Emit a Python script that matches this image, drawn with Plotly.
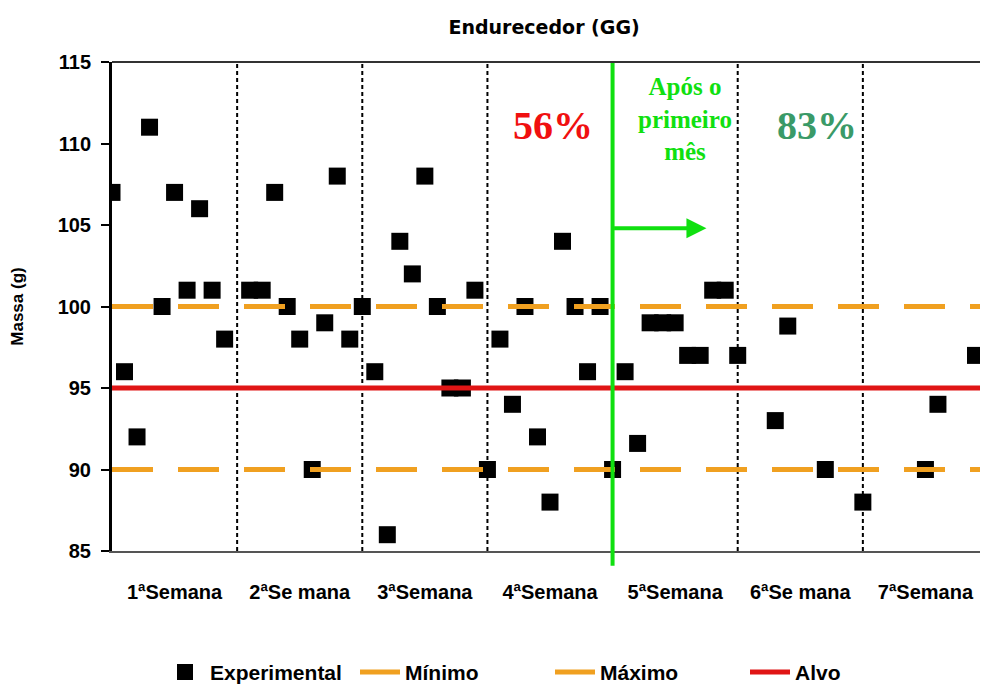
import plotly.graph_objects as go

# amostras (posicao no eixo x) e massa medida (g)
amostra = [0, 1, 2, 3, 4, 5, 6, 7, 8, 9,
           11, 12, 13, 14, 15, 16, 17, 18, 19, 20,
           21, 22, 23, 24, 25, 26, 27, 28, 29, 30,
           31, 32, 33, 34, 35, 36, 37, 38, 39, 40,
           41, 42, 43, 44, 45, 46, 47, 48, 49, 50,
           53, 54, 57, 60,
           65, 66, 69]
massa = [107, 96, 92, 111, 100, 107, 101, 106, 101, 98,
         101, 101, 107, 100, 98, 90, 99, 108, 98, 100,
         96, 86, 104, 102, 108, 100, 95, 95, 101, 90,
         98, 94, 100, 92, 88, 104, 100, 96, 100, 90,
         96, 91.6, 99, 99, 99, 97, 97, 101, 101, 97,
         93, 98.8, 90, 88,
         90, 94, 97]

semanas = ["1ªSemana", "2ªSe mana", "3ªSemana", "4ªSemana",
           "5ªSemana", "6ªSe mana", "7ªSemana"]
amostras_por_semana = 10
x_range = [0, 70]

minimo = 90
maximo = 100
alvo = 95
inicio_mes = 40  # fim da 4a semana

NARROW = dict(family="Liberation Sans Narrow, Arial Narrow, Arial", weight="bold", color="black")
WIDE = dict(family="DejaVu Sans", weight="bold", color="black")

fig = go.Figure()
fig.add_trace(go.Scatter(x=amostra, y=massa, mode="markers", name="Experimental",
                         marker=dict(symbol="square", size=17, color="black")))
fig.add_trace(go.Scatter(x=x_range, y=[minimo, minimo], mode="lines", name="Mínimo",
                         line=dict(color="#F0A020", width=5, dash="41px,25px")))
fig.add_trace(go.Scatter(x=x_range, y=[maximo, maximo], mode="lines", name="Máximo",
                         line=dict(color="#F0A020", width=5, dash="41px,25px")))
fig.add_trace(go.Scatter(x=x_range, y=[alvo, alvo], mode="lines", name="Alvo",
                         line=dict(color="#E01515", width=5)))

# divisoes das semanas
for k in range(1, len(semanas)):
    xv = k * amostras_por_semana
    if xv == inicio_mes:
        continue
    fig.add_shape(type="line", x0=xv, x1=xv, y0=0, y1=1, xref="x", yref="paper",
                  line=dict(color="black", width=2, dash="4px,3px"), layer="below")

# linha verde: apos o primeiro mes
fig.add_shape(type="line", x0=inicio_mes, x1=inicio_mes, y0=-0.03, y1=1,
              xref="x", yref="paper", line=dict(color="#10E010", width=4))
fig.add_annotation(x=inicio_mes + 7.5, y=104.8, ax=inicio_mes, ay=104.8,
                   xref="x", yref="y", axref="x", ayref="y", text="",
                   showarrow=True, arrowhead=2, arrowsize=1, arrowwidth=4,
                   arrowcolor="#10E010")
fig.add_annotation(x=inicio_mes + 5.8, y=111.5, xref="x", yref="y",
                   text="Após o<br>primeiro<br>mês", showarrow=False,
                   font=dict(family="Liberation Serif", size=25, weight="bold",
                             color="#10E010"))
fig.add_annotation(x=35.2, y=111.1, xref="x", yref="y", text="56%", showarrow=False,
                   font=dict(family="Liberation Serif", size=40, weight="bold",
                             color="#F01010"))
fig.add_annotation(x=56.3, y=111.1, xref="x", yref="y", text="83%", showarrow=False,
                   font=dict(family="Liberation Serif", size=40, weight="bold",
                             color="#3A9A68"))

# a pagina tem margem de 8px: a figura fica 8px menor
fig.update_layout(
    width=980, height=678,
    paper_bgcolor="white", plot_bgcolor="white",
    margin=dict(l=104, r=0, t=54, b=135, autoexpand=False),
    title=dict(text="Endurecedor (GG)", x=0.547, xanchor="center", y=0.972,
               yanchor="middle", font=dict(size=19, **WIDE)),
    showlegend=True,
    legend=dict(orientation="h", x=0.5, xanchor="center", y=-0.248, yanchor="middle",
                font=dict(size=21, **NARROW), itemwidth=40, tracegroupgap=0,
                entrywidth=140, entrywidthmode="pixels"),
)
fig.update_xaxes(range=x_range, showgrid=False, zeroline=False, automargin=False,
                 tickvals=[amostras_por_semana * (i + 0.5) for i in range(len(semanas))],
                 ticktext=semanas, ticks="", tickfont=dict(size=20, **NARROW),
                 ticklabelstandoff=22,
                 showline=True, linecolor="#555555", linewidth=2, mirror=False)
fig.update_yaxes(range=[85, 115], dtick=5, showgrid=False, zeroline=False, automargin=False,
                 ticks="outside", ticklen=8, tickwidth=2, tickcolor="black",
                 tickfont=dict(size=20, **NARROW), ticklabelstandoff=6,
                 showline=True, linecolor="black", linewidth=3,
                 title=dict(text="Massa (g)", font=dict(size=17, **NARROW), standoff=36))
# borda superior
fig.add_shape(type="line", x0=0, x1=1, y0=1, y1=1, xref="paper", yref="paper",
              line=dict(color="#333333", width=2))

fig.write_html("out.html")
